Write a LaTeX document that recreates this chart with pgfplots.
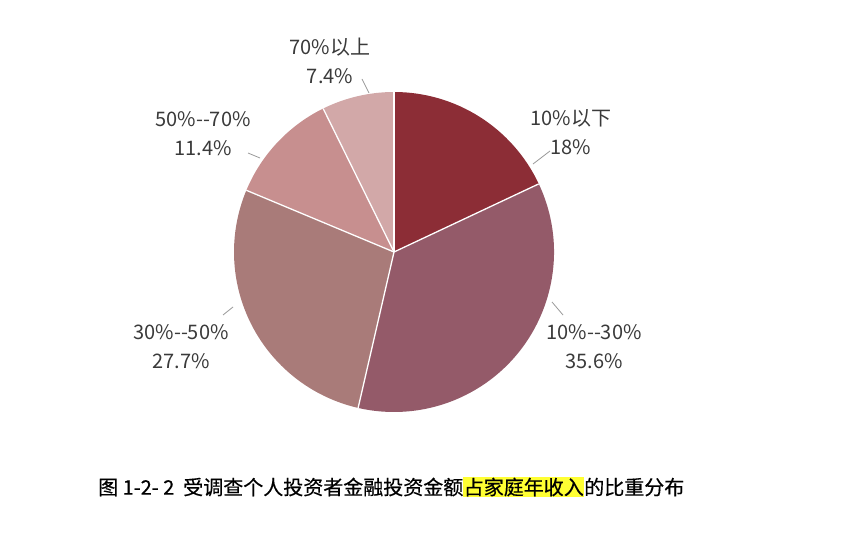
\documentclass[border=0pt]{standalone}
\usepackage{pgfplots}
\pgfplotsset{compat=1.18}
\usepackage{fontspec}
\setmainfont{Noto Sans CJK SC}
\newfontfamily\capfont[FakeBold=0.4]{Noto Sans CJK SC}
\definecolor{sA}{HTML}{8C2D36}
\definecolor{sB}{HTML}{945A69}
\definecolor{sC}{HTML}{A97B79}
\definecolor{sD}{HTML}{C78F8F}
\definecolor{sE}{HTML}{D2A8A8}
\definecolor{lbl}{HTML}{3A3A3A}
\definecolor{hl}{HTML}{FFFF33}

% #1 share before this slice (%), #2 share of slice (%), #3 colour
\newcommand\slice[3]{%
  \fill[#3] (axis cs:394,295) -- ++({90-3.6*#1}:160pt)
    arc[start angle={90-3.6*#1}, delta angle={-3.6*#2}, radius=160pt] -- cycle;}
\newcommand\edge[1]{%
  \draw[white, line width=1.3pt] (axis cs:394,295) -- ++({90-3.6*#1}:160pt);}

\begin{document}
\begin{tikzpicture}
\begin{axis}[
  width=841pt, height=547pt, scale only axis,
  xmin=0, xmax=841, ymin=0, ymax=547,
  hide axis, clip=false,
]
\path (axis cs:0,0) rectangle (axis cs:841,547);

% shares: 18, 35.6, 27.7, 11.4, 7.4
\slice{0}{18}{sA}
\slice{18}{35.6}{sB}
\slice{53.6}{27.7}{sC}
\slice{81.3}{11.4}{sD}
\slice{92.7}{7.3}{sE}
\edge{0}\edge{18}\edge{53.6}\edge{81.3}\edge{92.7}

% leader lines
\draw[gray!80, line width=0.8pt] (axis cs:533,383) -- (axis cs:550,396);
\draw[gray!80, line width=0.8pt] (axis cs:362,468) -- (axis cs:369,454);
\draw[gray!80, line width=0.8pt] (axis cs:248,394) -- (axis cs:260,389);
\draw[gray!80, line width=0.8pt] (axis cs:223,232) -- (axis cs:233,240);
\draw[gray!80, line width=0.8pt] (axis cs:552,245) -- (axis cs:563,232);

\tikzset{lab/.style={text=lbl, align=center, font=\fontsize{20}{29}\selectfont}}
\node[lab] at (axis cs:571,415) {10\%以下\\18\%};
\node[lab] at (axis cs:594,200) {10\%-{}-30\%\\35.6\%};
\node[lab] at (axis cs:181,200) {30\%-{}-50\%\\27.7\%};
\node[lab] at (axis cs:203,413) {50\%-{}-70\%\\11.4\%};
\node[lab] at (axis cs:330,486) {70\%以上\\7.4\%};

\node[anchor=west, inner sep=0pt, font=\capfont\fontsize{20}{23}\selectfont] at (axis cs:98,60)
  {图 1-2- 2\ \ 受调查个人投资者金融投资金额{\setlength\fboxsep{0.5pt}\colorbox{hl}{占家庭年收入}}的比重分布};
\end{axis}
\end{tikzpicture}
\end{document}
